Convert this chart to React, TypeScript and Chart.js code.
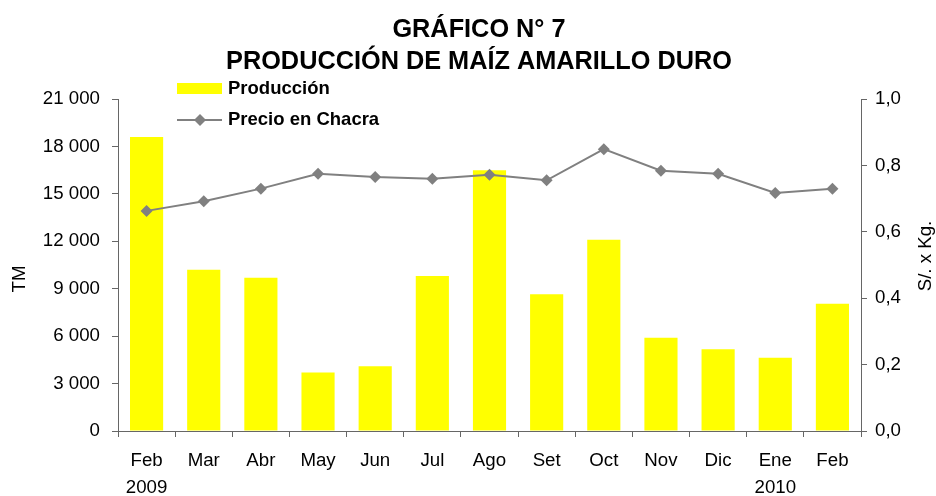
import React, { useEffect, useRef } from "react";
import { Chart, registerables } from "chart.js";

Chart.register(...registerables);

// ---- data ----
const months = ["Feb", "Mar", "Abr", "May", "Jun", "Jul", "Ago", "Set", "Oct", "Nov", "Dic", "Ene", "Feb"];
const years = ["2009", "", "", "", "", "", "", "", "", "", "", "2010", ""];
const produccion = [18600, 10200, 9700, 3700, 4100, 9800, 16500, 8650, 12100, 5900, 5170, 4640, 8050];
const precio = [0.663, 0.692, 0.73, 0.775, 0.765, 0.76, 0.772, 0.755, 0.849, 0.784, 0.775, 0.717, 0.73];
const titleLines = ["GRÁFICO N° 7", "PRODUCCIÓN DE MAÍZ AMARILLO DURO"];
const seriesNames = ["Producción", "Precio en Chacra"];
const leftAxisTitle = "TM";
const rightAxisTitle = "S/. x Kg.";
const leftMax = 21000;
const leftStep = 3000;
const rightMax = 1;
const rightStep = 0.2;

const FONT = "Arial, 'Liberation Sans', sans-serif";
const BAR_COLOR = "#FFFF00";
const LINE_COLOR = "#808080";
const AXIS_COLOR = "#666666";

const labels = months.map((m, i) => (years[i] ? [m, years[i]] : m));

const fmtThousands = (v: number) => String(Math.round(v)).replace(/\B(?=(\d{3})+(?!\d))/g, " ");
const fmtDecimal = (v: number) => v.toFixed(1).replace(".", ",");

const decorPlugin = {
  id: "decor",
  beforeDraw(chart: any) {
    const ctx = chart.ctx;
    ctx.save();
    ctx.fillStyle = "#ffffff";
    ctx.fillRect(0, 0, chart.width, chart.height);
    ctx.restore();
  },
  afterDraw(chart: any) {
    const ctx = chart.ctx;
    ctx.save();
    // Title
    ctx.fillStyle = "#000000";
    ctx.font = `bold 25.3px ${FONT}`;
    ctx.textAlign = "center";
    ctx.textBaseline = "alphabetic";
    ctx.fillText(titleLines[0], 479, 36.5);
    ctx.fillText(titleLines[1], 479, 68.5);

    // Legend
    ctx.fillStyle = BAR_COLOR;
    ctx.fillRect(177, 83, 45, 11);
    ctx.strokeStyle = LINE_COLOR;
    ctx.lineWidth = 2;
    ctx.beginPath();
    ctx.moveTo(177, 120);
    ctx.lineTo(222, 120);
    ctx.stroke();
    ctx.fillStyle = LINE_COLOR;
    ctx.beginPath();
    ctx.moveTo(200 - 6, 120);
    ctx.lineTo(200, 114);
    ctx.lineTo(200 + 6, 120);
    ctx.lineTo(200, 126);
    ctx.closePath();
    ctx.fill();
    ctx.fillStyle = "#000000";
    ctx.font = `bold 18.5px ${FONT}`;
    ctx.textAlign = "left";
    ctx.fillText(seriesNames[0], 228, 94.3);
    ctx.fillText(seriesNames[1], 228, 124.8);

    // Axis titles
    ctx.font = `18.7px ${FONT}`;
    ctx.textAlign = "center";
    ctx.save();
    ctx.translate(25, 279);
    ctx.rotate(-Math.PI / 2);
    ctx.fillText(leftAxisTitle, 0, 0);
    ctx.restore();
    ctx.save();
    ctx.translate(931, 256);
    ctx.rotate(-Math.PI / 2);
    ctx.fillText(rightAxisTitle, 0, 0);
    ctx.restore();
    ctx.restore();
  },
};

export default function App() {
  const ref = useRef<HTMLCanvasElement | null>(null);
  useEffect(() => {
    if (!ref.current) return;
    const tickFont = { family: FONT, size: 18.7, lineHeight: 1.42 };
    const chart = new Chart(ref.current, {
      type: "bar",
      data: {
        labels,
        datasets: [
          {
            type: "line",
            label: seriesNames[1],
            data: precio,
            yAxisID: "y1",
            borderColor: LINE_COLOR,
            backgroundColor: LINE_COLOR,
            borderWidth: 2,
            pointStyle: "rectRot",
            pointRadius: 6,
            pointBorderWidth: 0,
            pointBackgroundColor: LINE_COLOR,
            tension: 0,
            order: 0,
          } as any,
          {
            type: "bar",
            label: seriesNames[0],
            data: produccion,
            yAxisID: "y",
            backgroundColor: BAR_COLOR,
            borderWidth: 0,
            categoryPercentage: 1,
            barPercentage: 0.58,
            order: 1,
          } as any,
        ],
      },
      options: {
        responsive: false,
        animation: false,
        layout: { padding: { top: 99, left: 0, right: 0, bottom: 0 } },
        plugins: {
          legend: { display: false },
          title: { display: false },
          tooltip: { enabled: false },
        },
        scales: {
          x: {
            offset: true,
            grid: {
              offset: true,
              drawOnChartArea: false,
              drawTicks: true,
              tickLength: 6,
              tickColor: AXIS_COLOR,
            },
            border: { display: true, color: AXIS_COLOR, width: 1 },
            ticks: { color: "#000", font: tickFont, padding: 11, maxRotation: 0, autoSkip: false },
            afterFit: (s: any) => {
              s.height = 65;
            },
          },
          y: {
            position: "left",
            min: 0,
            max: leftMax,
            grid: { drawOnChartArea: false, tickLength: 6, tickColor: AXIS_COLOR },
            border: { display: true, color: AXIS_COLOR, width: 1 },
            ticks: {
              stepSize: leftStep,
              color: "#000",
              font: { family: FONT, size: 18.7 },
              padding: 12,
              callback: (v: any) => fmtThousands(Number(v)),
            },
            afterFit: (s: any) => {
              s.width = 118;
            },
          },
          y1: {
            position: "right",
            min: 0,
            max: rightMax,
            grid: { drawOnChartArea: false, tickLength: 6, tickColor: AXIS_COLOR },
            border: { display: true, color: AXIS_COLOR, width: 1 },
            ticks: {
              stepSize: rightStep,
              color: "#000",
              font: { family: FONT, size: 18.7 },
              padding: 8,
              callback: (v: any) => fmtDecimal(Number(v)),
            },
            afterFit: (s: any) => {
              s.width = 75;
            },
          },
        },
      },
      plugins: [decorPlugin],
    });
    return () => chart.destroy();
  }, []);
  return (
    <div style={{ position: "fixed", left: 0, top: 0, width: 936, height: 496, background: "#fff" }}>
      <canvas ref={ref} width={936} height={496} style={{ display: "block", width: 936, height: 496 }} />
    </div>
  );
}
